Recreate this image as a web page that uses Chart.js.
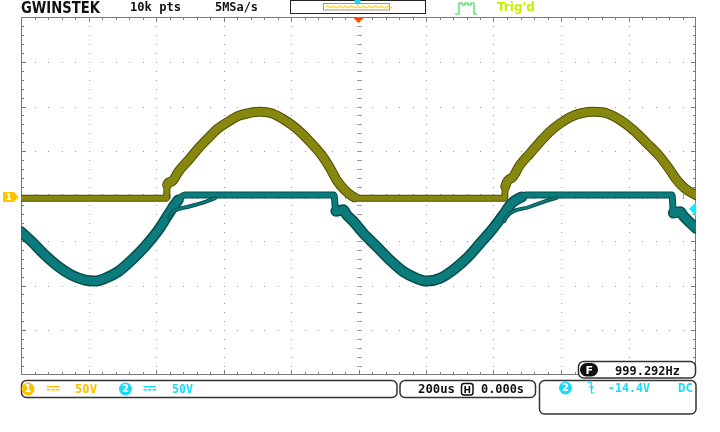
<!DOCTYPE html>
<html>
<head>
<meta charset="utf-8">
<script src="https://cdn.jsdelivr.net/npm/chart.js@4.4.1/dist/chart.umd.min.js"></script>
<style>
  html, body { margin: 0; padding: 0; background: #fff; }
  canvas { display: block; }
</style>
</head>
<body>
<canvas id="scope" width="720" height="432"></canvas>
<script>
// time in us (200us/div, trigger at 0), voltage in V (50V/div)
const timeRange = [-1000, 1000];
const voltRange = [-200, 200];

const ch1Time = [-1000, -569, -567, -554, -534, -504, -474, -446, -416, -386, -356, -326, -292, -258, -228, -198, -168, -140, -110, -84, -65, -40, -12, 5,
  433, 435, 454, 478, 508, 538, 567, 597, 627, 661, 696, 735, 775, 815, 854, 893, 923, 943, 967, 1000];
const ch1Volt = [-2.5, -2.5, 12.5, 16, 27, 40, 53.5, 64.5, 75.5, 83, 89.5, 92.5, 94, 92.5, 87, 79.5, 70, 59, 46, 31, 18, 6.5, -1.5, -2.5,
  -2.5, 10.5, 20, 34.5, 47.5, 60.5, 72, 81, 88, 92.5, 94, 92.5, 85, 73.5, 59, 44, 29, 18, 8.5, 1];
const ch1Base = -2.5;

const ch2Time = [-1000, -968, -929, -889, -850, -810, -781, -751, -712, -672, -633, -593, -564, -534, -514, -73, -67, -45, -35, -15,
  14, 54, 93, 133, 172, 202, 241, 281, 321, 360, 399, 429, 454, 484, 496, 929, 933, 953, 962, 1000];
const ch2Volt = [-40, -51, -66, -79, -88.5, -94, -95, -92, -84.5, -71.5, -56.5, -38, -21, -4.5, 1, 1, -17, -15.5, -21, -28.5,
  -41.5, -56.5, -71.5, -84.5, -92, -95, -92, -82.5, -69.5, -53, -36, -21, -8, -1, 1, 1, -19, -17.5, -22, -36];
const ch2Base = 1;

// stray strands on the ch2 rising edge (null = break)
const ch2StrandTime = [-560, -553, -504, -465, -425, 0, 432, 439, 508, 548, 587];
const ch2StrandVolt = [-24, -19, -12, -8, -2.5, null, -28, -23, -12, -6.5, -2];

const trigLevel = -14.4;

const pts = (xs, ys) => xs.map((t, i) => ({ x: t, y: ys[i] }));

// runs sitting on the clamp level and vertical steps are thinner than the noisy slopes
function trace(data, color, flatW, slopeW, base) {
  const thin = c => (Math.abs(c.p0.parsed.y - base) < 6 && Math.abs(c.p1.parsed.y - base) < 6) ||
    Math.abs(c.p1.parsed.x - c.p0.parsed.x) < 8;
  return {
    data,
    borderColor: color,
    borderWidth: slopeW,
    pointRadius: 0,
    clip: 0,
    segment: { borderWidth: c => thin(c) ? flatW : slopeW },
  };
}

function rrect(ctx, x, y, w, h, r) {
  ctx.beginPath();
  ctx.moveTo(x + r, y);
  ctx.arcTo(x + w, y, x + w, y + h, r);
  ctx.arcTo(x + w, y + h, x, y + h, r);
  ctx.arcTo(x, y + h, x, y, r);
  ctx.arcTo(x, y, x + w, y, r);
  ctx.closePath();
}

function text(ctx, s, x, y, w, color) {
  ctx.fillStyle = color;
  ctx.font = 'bold 13px "DejaVu Sans Mono"';
  ctx.fillText(s, x, y, w);
}

function badge(ctx, cx, cy, r, fill, s) {
  ctx.fillStyle = fill;
  ctx.beginPath();
  ctx.arc(cx, cy, r, 0, Math.PI * 2);
  ctx.fill();
  ctx.fillStyle = '#fff';
  ctx.font = 'bold 10px "DejaVu Sans"';
  ctx.textAlign = 'center';
  ctx.textBaseline = 'middle';
  ctx.fillText(s, cx, cy + 0.5);
  ctx.textAlign = 'left';
  ctx.textBaseline = 'alphabetic';
}

function dcMark(ctx, x, y, color) {
  ctx.fillStyle = color;
  ctx.fillRect(x, y, 12.5, 1.5);
  for (let i = 0; i < 3; i++) ctx.fillRect(x + i * 4.5, y + 3, 3.5, 1.5);
}

const graticule = {
  id: 'graticule',
  beforeDatasetsDraw(chart) {
    const { ctx, chartArea: a, scales: { x, y } } = chart;
    ctx.save();
    ctx.fillStyle = '#9a9a9a';
    for (let t = -800; t <= 800; t += 200) {
      const px = Math.round(x.getPixelForValue(t));
      for (let v = -190; v <= 190; v += 10) {
        const py = Math.round(y.getPixelForValue(v));
        if (t === 0) ctx.fillRect(px - 2, py, 5, 1);
        else ctx.fillRect(px, py, 1, 1);
      }
    }
    for (let v = -150; v <= 150; v += 50) {
      const py = Math.round(y.getPixelForValue(v));
      for (let t = -960; t <= 960; t += 40) {
        const px = Math.round(x.getPixelForValue(t));
        if (v === 0) ctx.fillRect(px, py - 2, 1, 5);
        else ctx.fillRect(px, py, 1, 1);
      }
    }
    // frame + edge ticks
    ctx.strokeStyle = '#7a7a7a';
    ctx.lineWidth = 1;
    ctx.strokeRect(a.left + 0.5, a.top + 0.5, a.width - 1, a.height - 1);
    ctx.fillStyle = '#7a7a7a';
    for (let t = -960; t <= 960; t += 40) {
      const px = Math.round(x.getPixelForValue(t));
      const len = t % 200 === 0 ? 5 : 3;
      ctx.fillRect(px, a.top, 1, len);
      ctx.fillRect(px, a.bottom - len, 1, len);
    }
    for (let v = -190; v <= 190; v += 10) {
      const py = Math.round(y.getPixelForValue(v));
      const len = v % 50 === 0 ? 5 : 3;
      ctx.fillRect(a.left, py, len, 1);
      ctx.fillRect(a.right - len, py, len, 1);
    }
    ctx.restore();
  }
};

const overlay = {
  id: 'overlay',
  afterDraw(chart) {
    const { ctx, chartArea: a, scales: { x, y } } = chart;
    ctx.save();

    // header
    ctx.fillStyle = '#111';
    ctx.font = 'bold 15px "DejaVu Sans"';
    ctx.fillText('GWINSTEK', 21, 13, 79);
    text(ctx, '10k pts', 130, 11, 51, '#111');
    text(ctx, '5MSa/s', 215, 11, 43, '#111');

    // memory bar
    ctx.strokeStyle = '#222';
    ctx.lineWidth = 1;
    ctx.strokeRect(290.5, 0.5, 135, 13);
    ctx.strokeStyle = '#999';
    ctx.strokeRect(323.5, 3.5, 66, 6.5);
    ctx.strokeStyle = '#f2c200';
    ctx.beginPath();
    ctx.moveTo(326, 7);
    for (let px = 326; px < 387; px += 6) {
      ctx.quadraticCurveTo(px + 1.5, 5, px + 3, 7);
      ctx.quadraticCurveTo(px + 4.5, 9, px + 6, 7);
    }
    ctx.stroke();
    ctx.fillStyle = '#18d8f0';
    ctx.beginPath();
    ctx.moveTo(354.5, 0); ctx.lineTo(360.5, 0); ctx.lineTo(360.5, 2); ctx.lineTo(357.5, 5); ctx.lineTo(354.5, 2);
    ctx.closePath();
    ctx.fill();

    // trigger status
    ctx.strokeStyle = '#3ad655';
    ctx.lineWidth = 1.2;
    ctx.beginPath();
    ctx.moveTo(455, 14); ctx.lineTo(459, 14); ctx.lineTo(459, 3);
    ctx.lineTo(462, 3); ctx.lineTo(462, 5); ctx.lineTo(465, 5); ctx.lineTo(465, 3);
    ctx.lineTo(468, 3); ctx.lineTo(468, 5); ctx.lineTo(471, 5); ctx.lineTo(471, 3);
    ctx.lineTo(474, 3); ctx.lineTo(474, 14); ctx.lineTo(477, 14);
    ctx.stroke();
    ctx.fillStyle = '#c8ee00';
    ctx.font = 'bold 12px "DejaVu Sans"';
    ctx.fillText("Trig'd", 497, 11, 38);

    // trigger position marker
    const tx = x.getPixelForValue(0);
    ctx.fillStyle = '#ff4a0a';
    ctx.beginPath();
    ctx.moveTo(tx - 6, a.top); ctx.lineTo(tx + 6, a.top); ctx.lineTo(tx, a.top + 6);
    ctx.closePath();
    ctx.fill();

    // ch1 ground marker
    const gy = y.getPixelForValue(0) + 1;
    ctx.fillStyle = '#ffc400';
    ctx.beginPath();
    ctx.moveTo(3, gy - 5); ctx.lineTo(14, gy - 5); ctx.lineTo(18.5, gy); ctx.lineTo(14, gy + 5); ctx.lineTo(3, gy + 5);
    ctx.closePath();
    ctx.fill();
    ctx.fillStyle = '#fff';
    ctx.font = 'bold 9px "DejaVu Sans"';
    ctx.textAlign = 'center';
    ctx.textBaseline = 'middle';
    ctx.fillText('1', 9, gy + 0.5);
    ctx.textAlign = 'left';
    ctx.textBaseline = 'alphabetic';

    // ch2 trigger level marker
    const ly = y.getPixelForValue(trigLevel);
    ctx.fillStyle = '#10ecff';
    ctx.beginPath();
    ctx.moveTo(a.right - 7, ly); ctx.lineTo(a.right, ly - 7); ctx.lineTo(a.right, ly + 7);
    ctx.closePath();
    ctx.fill();

    // frequency readout
    ctx.fillStyle = '#fff';
    ctx.strokeStyle = '#333';
    ctx.lineWidth = 1.5;
    rrect(ctx, 578.5, 361.5, 117, 16.5, 5);
    ctx.fill();
    ctx.stroke();
    ctx.fillStyle = '#111';
    rrect(ctx, 580, 363, 18, 13.5, 6.5);
    ctx.fill();
    ctx.fillStyle = '#fff';
    ctx.font = 'bold 11px "DejaVu Sans"';
    ctx.fillText('F', 585.5, 374);
    text(ctx, '999.292Hz', 615, 374.5, 65, '#111');

    // bottom status boxes
    ctx.strokeStyle = '#333';
    ctx.lineWidth = 1.5;
    rrect(ctx, 21.5, 380.5, 375.5, 17, 5);
    ctx.stroke();
    rrect(ctx, 400, 380.5, 135.5, 17, 5);
    ctx.stroke();
    rrect(ctx, 539.5, 380.5, 156.5, 33.5, 5);
    ctx.stroke();

    badge(ctx, 28, 389, 6.5, '#ffc000', '1');
    dcMark(ctx, 47, 386, '#ffc000');
    text(ctx, '50V', 75, 393, 22, '#ffc000');
    badge(ctx, 125.5, 389, 6.5, '#18dcf5', '2');
    dcMark(ctx, 143.5, 386, '#18dcf5');
    text(ctx, '50V', 172, 393, 21, '#18dcf5');

    text(ctx, '200us', 418, 393, 37, '#111');
    ctx.strokeStyle = '#111';
    ctx.lineWidth = 1.5;
    rrect(ctx, 461.5, 383.5, 11.5, 11.5, 2.5);
    ctx.stroke();
    ctx.fillStyle = '#111';
    ctx.font = 'bold 9px "DejaVu Sans"';
    ctx.fillText('H', 463.5, 393);
    text(ctx, '0.000s', 481, 393, 43, '#111');

    badge(ctx, 565.5, 388, 6.5, '#18dcf5', '2');
    ctx.strokeStyle = '#18dcf5';
    ctx.lineWidth = 1.2;
    ctx.beginPath();
    ctx.moveTo(588, 382.5); ctx.lineTo(591.5, 382.5); ctx.lineTo(591.5, 393); ctx.lineTo(595, 393);
    ctx.moveTo(589.5, 386); ctx.lineTo(591.5, 389); ctx.lineTo(593.5, 386);
    ctx.stroke();
    text(ctx, '-14.4V', 608, 392, 42, '#18dcf5');
    text(ctx, 'DC', 678, 392, 15, '#18dcf5');

    ctx.restore();
  }
};

new Chart(document.getElementById('scope'), {
  type: 'line',
  data: {
    datasets: [
      trace(pts(ch1Time, ch1Volt), '#878710', 5, 8, ch1Base),
      trace(pts(ch1Time, ch1Volt), '#4e4e00', 7, 10, ch1Base),
      trace(pts(ch2StrandTime, ch2StrandVolt), '#0b7b7b', 2, 2, ch2Base),
      trace(pts(ch2StrandTime, ch2StrandVolt), '#064f4f', 4, 4, ch2Base),
      trace(pts(ch2Time, ch2Volt), '#0b7b7b', 5, 8, ch2Base),
      trace(pts(ch2Time, ch2Volt), '#054e4e', 7, 11, ch2Base),
    ]
  },
  options: {
    responsive: false,
    animation: false,
    events: [],
    layout: { padding: { left: 21, right: 24, top: 17, bottom: 57 } },
    scales: {
      x: { type: 'linear', min: timeRange[0], max: timeRange[1], display: false },
      y: { type: 'linear', min: voltRange[0], max: voltRange[1], display: false },
    },
    elements: {
      line: { cubicInterpolationMode: 'monotone', borderCapStyle: 'round', borderJoinStyle: 'round' },
    },
    plugins: { legend: { display: false }, tooltip: { enabled: false } },
  },
  plugins: [graticule, overlay],
});
</script>
</body>
</html>
